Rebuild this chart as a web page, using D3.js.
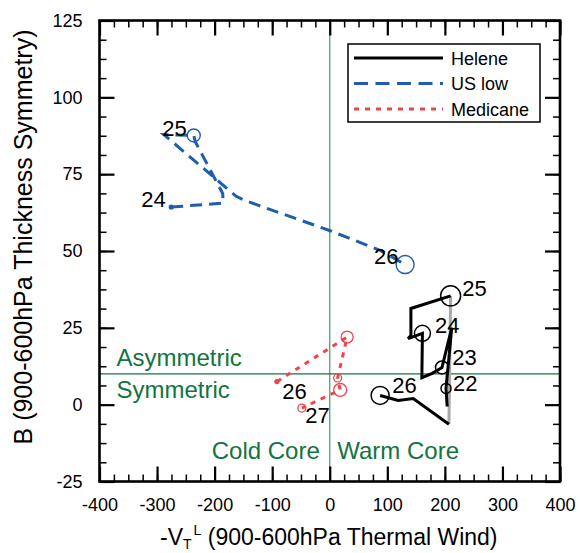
<!DOCTYPE html>
<html><head><meta charset="utf-8">
<script src="https://cdn.jsdelivr.net/npm/d3@7"></script>
<style>
body{margin:0;background:#fff}
svg{display:block}
text{font-family:"Liberation Sans",Arial,Helvetica,sans-serif}
</style>
</head><body>
<svg id="c" width="580" height="553"></svg>
<script>
// ---------- data ----------
const xTicks = [-400,-300,-200,-100,0,100,200,300,400];
const yTicks = [-25,0,25,50,75,100,125];
const seriesNames = ["Helene","US low","Medicane"];

// Helene track (-VTL, B)
const heleneX = [204,202,212,195,178,160,161,136,141,141,210,207,145,119,87.5];
const heleneY = [-0.6,5.3,25.1,12.1,10.2,8.8,23.2,21.5,22.5,31.3,35.4,-6.4,2.0,1.4,3.0];
const heleneGraySeg = [10];           // segment index drawn in grey
const heleneMarkIdx = [1,3,6,10,14];
const heleneMarkSize = [5,6.5,8,10,9];
const heleneDays = ["22","23","24","25","26"];
const heleneLabX = [214,213,183,230,108.5];
const heleneLabY = [4.6,12.9,23.2,35.2,3.7];

// US low track
const uslowX = [-275.4,-185.1,-186.0,-216.4,-233.7,-236.3,-288.4,-162.5,-146.9,0.7,87.5,130.9];
const uslowY = [64.3,65.6,68.7,79.5,85.6,87.6,87.9,67.8,66.4,56.6,50.2,45.6];
const uslowMarkIdx = [5,11];
const uslowMarkSize = [6.5,9];
const uslowDays = ["24","25","26"];
const uslowLabX = [-327.5,-291,77];
const uslowLabY = [64.2,87.3,45.9];

// Medicane track
const medX = [-91.9,30.2,13.7,18.1,-48.4];
const medY = [7.5,22.0,8.7,4.8,-1.1];
const medMarkIdx = [1,2,3,4];
const medMarkSize = [6,4,6.5,4];
const medDays = ["26","27"];
const medLabX = [-82.7,-42.7];
const medLabY = [2.0,-6.1];

// ---------- drawing ----------
const svg = d3.select("#c");
const L=99.5, R=560, T=20.5, B=481.5;
const x = d3.scaleLinear().domain([-400,400]).range([L,R]);
const y = d3.scaleLinear().domain([-25,125]).range([B,T]);
const rs = d3.scaleLinear().domain([0,10]).range([0,10]);

const GREEN="#13743f", BLUE="#1f5eae", RED="#f0444c";

// region lines
svg.append("line").attr("x1",x(0)).attr("x2",x(0)).attr("y1",T).attr("y2",B)
  .attr("stroke","#3f9a68").attr("stroke-width",1.2);
svg.append("line").attr("x1",L).attr("x2",R).attr("y1",y(10)).attr("y2",y(10))
  .attr("stroke",GREEN).attr("stroke-width",1.3);

// region labels
const reg = svg.append("g").attr("fill",GREEN).attr("font-size",24);
reg.append("text").attr("x",x(-400)+17).attr("y",y(10)-8).text("Asymmetric");
reg.append("text").attr("x",x(-400)+17).attr("y",y(10)+24).text("Symmetric");
reg.append("text").attr("x",x(0)-10).attr("y",B-23).attr("text-anchor","end").text("Cold Core");
reg.append("text").attr("x",x(0)+7.5).attr("y",B-23).text("Warm Core");

// axes (inward ticks)
const xMinor = d3.range(-400,401,25), yMinor = d3.range(-25,125.01,6.25);
function ax(gen, scale, vals, size, fmt, tr, sw){
  const g = svg.append("g").attr("transform",tr)
    .call(gen(scale).tickValues(vals).tickSize(size).tickSizeOuter(0).tickPadding(17).tickFormat(fmt));
  g.select(".domain").remove();
  g.selectAll(".tick line").attr("stroke","#000").attr("stroke-width",sw);
  g.selectAll(".tick text").attr("font-size",18).attr("fill","#000")
    .style("font-family",'"Liberation Sans",Arial,sans-serif');
  return g;
}
const plain = d=>String(d);
ax(d3.axisBottom,x,xMinor,-7,"",`translate(0,${B})`,1.5);
ax(d3.axisTop,x,xMinor,-7,"",`translate(0,${T})`,1.5);
ax(d3.axisLeft,y,yMinor,-7,"",`translate(${L},0)`,1.5);
ax(d3.axisRight,y,yMinor,-7,"",`translate(${R},0)`,1.5);
ax(d3.axisBottom,x,xTicks,-15,plain,`translate(0,${B})`,2.2);
ax(d3.axisTop,x,xTicks,-15,"",`translate(0,${T})`,2.2);
ax(d3.axisLeft,y,yTicks,-15,plain,`translate(${L},0)`,2.2);
ax(d3.axisRight,y,yTicks,-15,"",`translate(${R},0)`,2.2);

svg.append("rect").attr("x",L).attr("y",T).attr("width",R-L).attr("height",B-T)
  .attr("fill","none").attr("stroke","#000").attr("stroke-width",2.6);

// tracks
const line = d3.line().x(d=>x(d[0])).y(d=>y(d[1]));
const zip = (a,b)=>a.map((v,i)=>[v,b[i]]);

// Helene
const hp = zip(heleneX,heleneY);
heleneGraySeg.forEach(i=>{
  svg.append("path").attr("d",line([hp[i],hp[i+1]])).attr("fill","none")
    .attr("stroke","#a9a9a9").attr("stroke-width",3);
});
let segs=[], cur=[hp[0]];
for(let i=0;i<hp.length-1;i++){
  if(heleneGraySeg.includes(i)){ segs.push(cur); cur=[hp[i+1]]; }
  else cur.push(hp[i+1]);
}
segs.push(cur);
segs.forEach(s=>svg.append("path").attr("d",line(s)).attr("fill","none")
  .attr("stroke","#000").attr("stroke-width",3).attr("stroke-linejoin","miter"));
heleneMarkIdx.forEach((k,i)=>svg.append("circle").attr("cx",x(hp[k][0])).attr("cy",y(hp[k][1]))
  .attr("r",rs(heleneMarkSize[i])).attr("fill","none").attr("stroke","#000").attr("stroke-width",1.5));

// US low
const up = zip(uslowX,uslowY);
svg.append("path").attr("d",line(up)).attr("fill","none").attr("stroke",BLUE)
  .attr("stroke-width",3).attr("stroke-dasharray","12,7");
svg.append("circle").attr("cx",x(up[0][0])).attr("cy",y(up[0][1])).attr("r",2.6).attr("fill",BLUE);
uslowMarkIdx.forEach((k,i)=>svg.append("circle").attr("cx",x(up[k][0])).attr("cy",y(up[k][1]))
  .attr("r",rs(uslowMarkSize[i])).attr("fill","none").attr("stroke",BLUE).attr("stroke-width",1.4));

// Medicane
const mp = zip(medX,medY);
svg.append("path").attr("d",line(mp)).attr("fill","none").attr("stroke",RED)
  .attr("stroke-width",3).attr("stroke-dasharray","5,6");
svg.append("circle").attr("cx",x(mp[0][0])).attr("cy",y(mp[0][1])).attr("r",2.6).attr("fill",RED);
medMarkIdx.forEach((k,i)=>svg.append("circle").attr("cx",x(mp[k][0])).attr("cy",y(mp[k][1]))
  .attr("r",rs(medMarkSize[i])).attr("fill","none").attr("stroke",RED).attr("stroke-width",1.3));

// day labels
const lab = svg.append("g").attr("font-size",22).attr("fill","#000");
[[heleneDays,heleneLabX,heleneLabY],[uslowDays,uslowLabX,uslowLabY],[medDays,medLabX,medLabY]]
 .forEach(([t,xs,ys])=>t.forEach((s,i)=>lab.append("text").attr("x",x(xs[i])).attr("y",y(ys[i])).text(s)));

// legend
const lg = svg.append("g");
lg.append("rect").attr("x",348).attr("y",44).attr("width",192).attr("height",78)
  .attr("fill","#fff").attr("stroke","#000").attr("stroke-width",1.5);
const legStyle=[{c:"#000",d:null},{c:BLUE,d:"14,7.5"},{c:RED,d:"5,6"}];
seriesNames.forEach((n,i)=>{
  const yy=58+i*25.5;
  const l=lg.append("line").attr("x1",354).attr("x2",443).attr("y1",yy).attr("y2",yy)
    .attr("stroke",legStyle[i].c).attr("stroke-width",3);
  if(legStyle[i].d) l.attr("stroke-dasharray",legStyle[i].d);
  lg.append("text").attr("x",451).attr("y",yy+6.5).attr("font-size",18).text(n);
});

// axis titles
const xt = svg.append("text").attr("x",160).attr("y",545).attr("font-size",23).attr("fill","#000");
xt.append("tspan").text("-V");
xt.append("tspan").attr("dy",4).attr("font-size",14).text("T");
xt.append("tspan").attr("dy",-14).attr("dx",2).attr("font-size",14).text("L");
xt.append("tspan").attr("dy",10).text(" (900-600hPa Thermal Wind)");

svg.append("text").attr("transform","translate(32,237) rotate(-90)").attr("text-anchor","middle")
  .attr("font-size",25).attr("fill","#000").text("B (900-600hPa Thickness Symmetry)");
</script>
</body></html>
